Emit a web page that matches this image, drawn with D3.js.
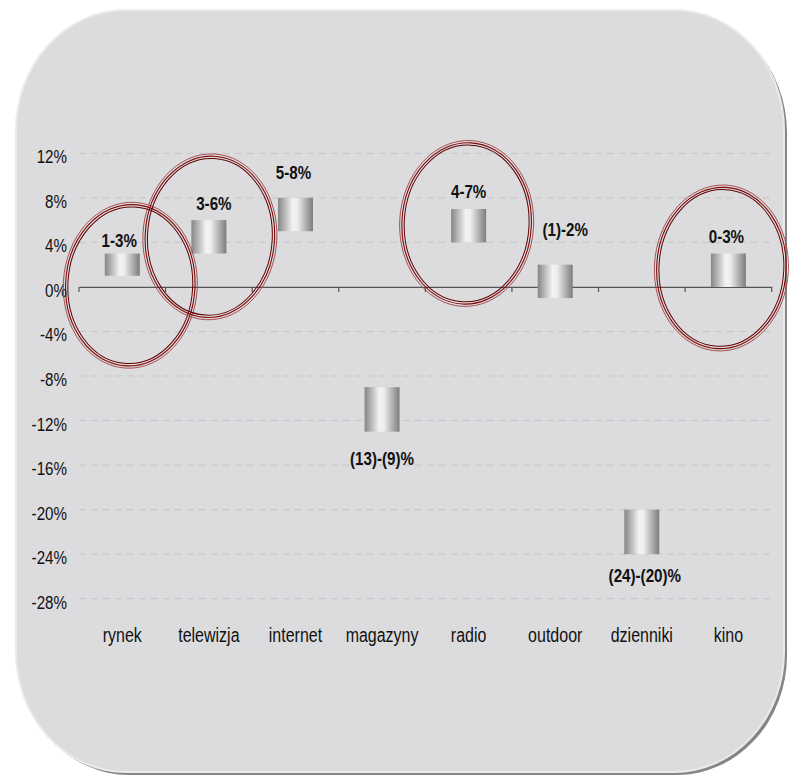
<!DOCTYPE html>
<head>
    <meta charset="utf-8">
    <script src="https://d3js.org/d3.v7.min.js"></script>
    <style>
        body {
            margin: 0;
            background: #fff;
        }
        text {
            font-family: "Liberation Sans", Arial, sans-serif;
            fill: #111;
        }
        .grid line {
            stroke: #c6c6c8;
            stroke-dasharray: 7, 5;
        }
        .lbl {
            font-weight: bold;
            font-size: 18.5px;
        }
    </style>
</head>

<body>
    <script>
        // media categories and expected change ranges (%)
        var categories = ["rynek", "telewizja", "internet", "magazyny", "radio", "outdoor", "dzienniki", "kino"];
        var lows = [1, 3, 5, -13, 4, -1, -24, 0];
        var highs = [3, 6, 8, -9, 7, 2, -20, 3];
        var rangeLabels = ["1-3%", "3-6%", "5-8%", "(13)-(9)%", "4-7%", "(1)-2%", "(24)-(20)%", "0-3%"];
        var yTicks = [12, 8, 4, 0, -4, -8, -12, -16, -20, -24, -28];
        // circled categories and the value the circle is centred on
        var circled = ["rynek", "telewizja", "radio", "kino"];
        var circleAt = [0.15, 4.5, 5.7, 1.7];

        var W = 789, H = 777;
        var narrow = 0.82; // emulate a narrow face by squeezing text horizontally

        var svg = d3.select("body").append("svg")
            .attr("width", W)
            .attr("height", H);

        var defs = svg.append("defs");
        var grad = defs.append("linearGradient").attr("id", "barGrad")
            .attr("x1", "0%").attr("x2", "100%").attr("y1", "0%").attr("y2", "0%");
        [["0%", "#858585"], ["42%", "#f3f3f3"], ["55%", "#eeeeee"], ["100%", "#7c7c7c"]].forEach(function(s) {
            grad.append("stop").attr("offset", s[0]).attr("stop-color", s[1]);
        });

        function place(sel, fx, fy) {
            sel.attr("transform", function(d, i) {
                return "translate(" + fx(d, i) + "," + fy(d, i) + ") scale(" + narrow + ",1)";
            });
        }

        // panel with shadow
        svg.append("rect")
            .attr("x", 19).attr("y", 13).attr("width", 768).attr("height", 762)
            .attr("rx", 110).attr("ry", 120)
            .attr("fill", "#858585");
        svg.append("rect")
            .attr("x", 16).attr("y", 10).attr("width", 768).attr("height", 762)
            .attr("rx", 110).attr("ry", 120)
            .attr("fill", "#dcdcdf")
            .attr("stroke", "#ebebeb")
            .attr("stroke-width", 2);

        var x = d3.scaleBand()
            .domain(categories)
            .range([79, 771.7])
            .padding(0);

        var y = d3.scaleLinear()
            .domain([-28, 12])
            .range([598.7, 153.3]);

        // gridlines
        svg.append("g").attr("class", "grid")
            .selectAll("line")
            .data(yTicks.filter(function(d) { return d !== 0; }))
            .enter().append("line")
            .attr("x1", 79).attr("x2", 771.7)
            .attr("y1", function(d) { return y(d); })
            .attr("y2", function(d) { return y(d); });

        // y tick labels
        svg.append("g").selectAll("text")
            .data(yTicks)
            .enter().append("text")
            .call(place, function() { return 67; }, function(d) { return y(d) + 10; })
            .attr("text-anchor", "end")
            .style("font-size", "18.5px")
            .text(function(d) { return d + "%"; });

        // zero axis with ticks between categories
        var xAxis = d3.axisBottom(x).tickSize(0).tickFormat("");
        var axisG = svg.append("g")
            .attr("transform", "translate(0," + y(0) + ")")
            .call(xAxis);
        axisG.select(".domain").attr("stroke", "#555").attr("stroke-width", 1.2);
        var edges = categories.map(function(c) { return x(c); }).concat([x.range()[1]]);
        axisG.selectAll("line.sep")
            .data(edges)
            .enter().append("line")
            .attr("class", "sep")
            .attr("x1", function(d) { return d; })
            .attr("x2", function(d) { return d; })
            .attr("y1", 0).attr("y2", 5)
            .attr("stroke", "#555")
            .attr("stroke-width", 1.2);

        // category labels
        svg.append("g").selectAll("text")
            .data(categories)
            .enter().append("text")
            .call(place, function(d) { return x(d) + x.bandwidth() / 2; }, function() { return 642; })
            .attr("text-anchor", "middle")
            .style("font-size", "19.5px")
            .text(function(d) { return d; });

        // floating range bars
        var barW = x.bandwidth() * 0.404;
        svg.append("g").selectAll("rect")
            .data(categories)
            .enter().append("rect")
            .attr("x", function(d) { return x(d) + (x.bandwidth() - barW) / 2; })
            .attr("y", function(d, i) { return y(highs[i]); })
            .attr("width", barW)
            .attr("height", function(d, i) { return y(lows[i]) - y(highs[i]); })
            .attr("fill", "url(#barGrad)");

        // range labels (hand placed like in the original)
        var labDx = [-3, 5, -2, 0, 0, 10, 3, -2];
        var labDy = [-7, -10, -19, 33, -10.5, -29, 28, -10.5];
        svg.append("g").selectAll("text")
            .data(categories)
            .enter().append("text")
            .attr("class", "lbl")
            .call(place, function(d, i) { return x(d) + x.bandwidth() / 2 + labDx[i]; },
                function(d, i) { return labDy[i] < 0 ? y(highs[i]) + labDy[i] : y(lows[i]) + labDy[i]; })
            .attr("text-anchor", "middle")
            .text(function(d, i) { return rangeLabels[i]; });

        // dark red triple rings around highlighted categories
        var ringDx = [8, 1, -2, -7];
        var rings = [{ off: 0, c: "#a04444", w: 0.9 }, { off: 2.3, c: "#800808", w: 1.1 }, { off: 4.6, c: "#5e0000", w: 1 }];
        circled.forEach(function(c, i) {
            var cx = x(c) + x.bandwidth() / 2 + ringDx[i],
                cy = y(circleAt[i]);
            rings.forEach(function(r) {
                svg.append("ellipse")
                    .attr("cx", cx).attr("cy", cy)
                    .attr("rx", 67 - r.off).attr("ry", 83 - r.off)
                    .attr("transform", "rotate(3," + cx + "," + cy + ")")
                    .attr("fill", "none")
                    .attr("stroke", r.c)
                    .attr("stroke-width", r.w);
            });
        });
    </script>
</body>
